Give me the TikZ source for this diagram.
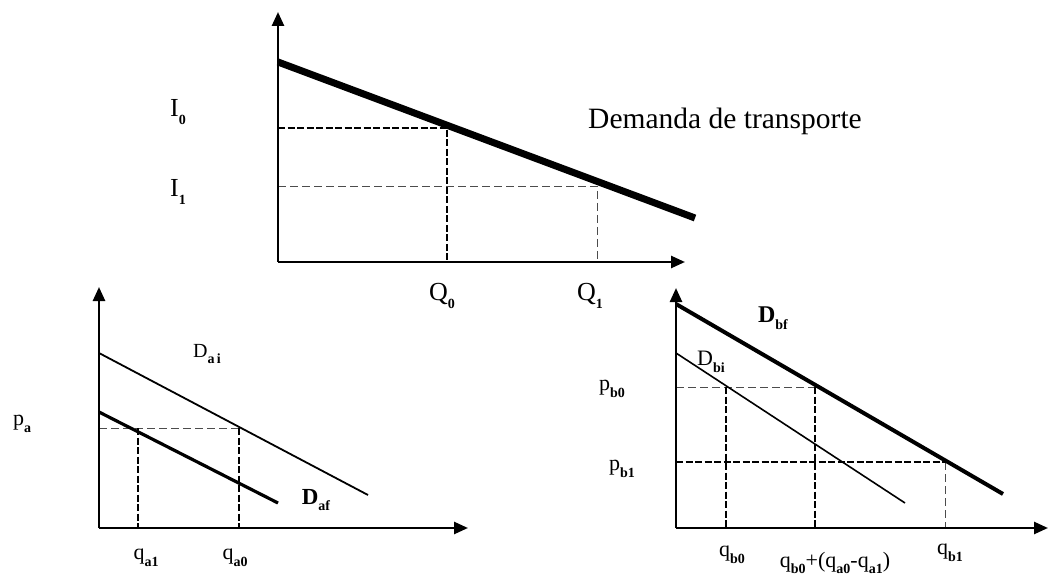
\documentclass[tikz,border=0pt]{standalone}
\usepackage{fontspec}
\setmainfont{Liberation Serif}
\usetikzlibrary{arrows.meta}
\newcommand{\subs}[1]{\raisebox{-0.3em}{\fontsize{14}{14}\selectfont\bfseries #1}}

\begin{document}
\begin{tikzpicture}[
  x=1pt, y=-1pt,
  lbl/.style={inner sep=0pt, font=\fontsize{26}{28}\selectfont},
  slbl/.style={inner sep=0pt, font=\fontsize{22}{24}\selectfont},
  axis/.style={line width=2.5pt, -{Triangle[length=14pt,width=12pt]}},
  dem/.style={line width=1.8pt},
  demb/.style={line width=4pt},
  thk/.style={line width=2.6pt, dash pattern=on 7pt off 2.5pt},
  thn/.style={line width=0.9pt, dash pattern=on 8pt off 4pt, black!70}
]
\useasboundingbox (0,0) rectangle (1049,577);

% top graph
\coordinate (o1) at (278,262);
\coordinate (y1) at (278,12);
\coordinate (x1) at (685,262);
\coordinate (d0) at (278,62);
\coordinate (d1) at (695,218);
\coordinate (e0) at (447,128);
\coordinate (e1) at (597,186);
\draw[thk] (o1 |- e0) -- (e0) -- (e0 |- o1);
\draw[thn] (o1 |- e1) -- (e1) -- (e1 |- o1);
\draw[line width=7pt] (d0) -- (d1);
\draw[axis] (o1) -- (y1);
\draw[axis] (o1) -- (x1);
\node[lbl] (i0) at (178,112) {I\subs{0}};
\node[lbl] (i1) at (178,192) {I\subs{1}};
\node[lbl] (q0) at (442,296) {Q\subs{0}};
\node[lbl] (q1) at (590,296) {Q\subs{1}};
\node[lbl, anchor=base west, font=\fontsize{29.5}{31}\selectfont] (dt) at (588,129) {Demanda de transporte};

% mode a
\coordinate (o2) at (99,528);
\coordinate (y2) at (99,287);
\coordinate (x2) at (468,528);
\coordinate (ai0) at (99,353);
\coordinate (ai1) at (368,495);
\coordinate (af0) at (99,412);
\coordinate (af1) at (278,503);
\coordinate (ea1) at (138,428);
\coordinate (ea0) at (239,428);
\draw[thn] (o2 |- ea0) -- (ea0);
\draw[thk] (ea1) -- (ea1 |- o2);
\draw[thk] (ea0) -- (ea0 |- o2);
\draw[dem] (ai0) -- (ai1);
\draw[line width=3.2pt] (af0) -- (af1);
\draw[axis] (o2) -- (y2);
\draw[axis] (o2) -- (x2);
\node[slbl] (pa) at (22,424) {p\subs{a}};
\node[slbl, font=\fontsize{20}{22}\selectfont] (dai) at (207,354) {D\subs{a\,i}};
\node[slbl, font=\fontsize{23}{25}\selectfont\bfseries] (daf) at (316,500) {D\subs{af}};
\node[slbl] (qa1) at (146,558) {q\subs{a1}};
\node[slbl] (qa0) at (235,558) {q\subs{a0}};

% mode b
\coordinate (o3) at (676,528);
\coordinate (y3) at (676,288);
\coordinate (x3) at (1048,528);
\coordinate (bf0) at (676,304);
\coordinate (bf1) at (1003,494);
\coordinate (bi0) at (676,353);
\coordinate (bi1) at (905,503);
\coordinate (eb0) at (726,387);
\coordinate (eb2) at (815,387);
\coordinate (eb1) at (945,462);
\draw[thn] (o3 |- eb0) -- (eb2);
\draw[thk] (eb0) -- (eb0 |- o3);
\draw[thk] (eb2) -- (eb2 |- o3);
\draw[thk] (o3 |- eb1) -- (eb1);
\draw[thn] (eb1) -- (eb1 |- o3);
\draw[line width=1.6pt] (bi0) -- (bi1);
\draw[demb] (bf0) -- (bf1);
\draw[axis] (o3) -- (y3);
\draw[axis] (o3) -- (x3);
\node[slbl] (pb0) at (612,389) {p\subs{b0}};
\node[slbl] (pb1) at (622,469) {p\subs{b1}};
\node[slbl, font=\fontsize{24}{26}\selectfont\bfseries] (dbf) at (773,318) {D\subs{bf}};
\node[slbl] (dbi) at (711,362) {D\subs{bi}};
\node[slbl] (qb0) at (732,555) {q\subs{b0}};
\node[slbl] (qb1) at (950,553) {q\subs{b1}};
\node[slbl, anchor=base] (qsum) at (835,567) {q\subs{b0}+(q\subs{a0}-q\subs{a1})};
\end{tikzpicture}
\end{document}
